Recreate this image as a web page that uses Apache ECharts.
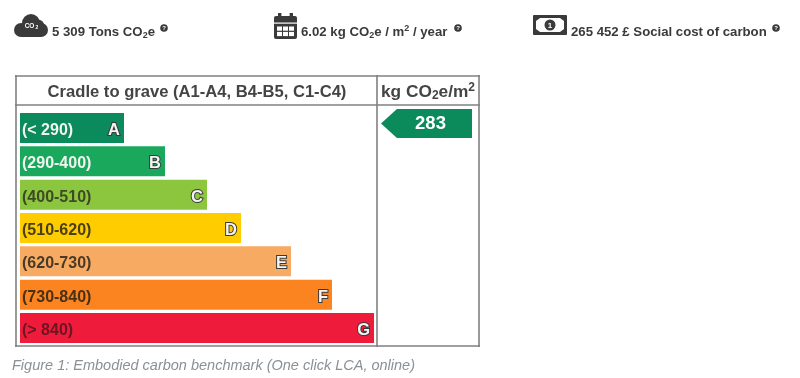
<!DOCTYPE html>
<html>
<head>
<meta charset="utf-8">
<title>Embodied carbon benchmark</title>
<script src="https://cdn.jsdelivr.net/npm/echarts@6/dist/echarts.min.js"></script>
<style>
html, body { margin: 0; padding: 0; background: #fff; }
#chart { width: 800px; height: 378px; }
</style>
</head>
<body>
<div id="chart"></div>
<script>
// data
var ranges = ["(< 290)", "(290-400)", "(400-510)", "(510-620)", "(620-730)", "(730-840)", "(> 840)"];
var grades = ["A", "B", "C", "D", "E", "F", "G"];
var barLengths = [104, 145, 187, 221, 271, 312, 354];
var resultValue = [283];
var resultLabel = ["283"];

var barColors = ["#0b8a5c", "#19a85c", "#8cc63f", "#ffcc00", "#f7ab62", "#fb8420", "#ee1c3a"];
var rangeColors = ["#f0f5f0", "#f0f5f0", "#3d4a25", "#4a3f10", "#4a3a28", "#4a3015", "#6b1525"];

var FONT = '"Liberation Sans", Arial, sans-serif';
var DARK = "#3a3a3a";
var LINE = "#808080";

var myChart = echarts.init(document.getElementById("chart"));

// table frame
function hLine(x1, x2, y) {
    return { type: "line", silent: true, shape: { x1: x1, y1: y, x2: x2, y2: y }, style: { stroke: LINE, lineWidth: 1.6 } };
}
function vLine(x, y1, y2) {
    return { type: "line", silent: true, shape: { x1: x, y1: y1, x2: x, y2: y2 }, style: { stroke: LINE, lineWidth: 1.6 } };
}

// top line text with sub and superscripts
var richText = {
    b: { fontFamily: FONT, fontWeight: "bold", fontSize: 13.2, fill: DARK, lineHeight: 16 },
    sub: { fontFamily: FONT, fontWeight: "bold", fontSize: 9, fill: DARK, verticalAlign: "bottom", lineHeight: 16 },
    sup: { fontFamily: FONT, fontWeight: "bold", fontSize: 9, fill: DARK, verticalAlign: "top", lineHeight: 16 }
};
function topText(x, y, text) {
    return { type: "text", silent: true, x: x, y: y, style: { text: text, rich: richText, fontFamily: FONT, verticalAlign: "middle" } };
}

// small round info mark
function infoMark(x, y) {
    return {
        type: "group", silent: true, x: x, y: y, children: [
            { type: "circle", shape: { cx: 0, cy: 0, r: 3.8 }, style: { fill: DARK } },
            { type: "text", style: { text: "?", x: 0, y: 0.3, fill: "#fff", fontSize: 6, fontWeight: "bold", fontFamily: FONT, align: "center", verticalAlign: "middle" } }
        ]
    };
}

function cloudIcon() {
    return {
        type: "group", silent: true, x: 14, y: 14, children: [
            { type: "circle", shape: { cx: 17, cy: 9, r: 9 }, style: { fill: DARK } },
            { type: "circle", shape: { cx: 7, cy: 16, r: 7 }, style: { fill: DARK } },
            { type: "circle", shape: { cx: 27, cy: 16, r: 7 }, style: { fill: DARK } },
            { type: "circle", shape: { cx: 25, cy: 11, r: 5 }, style: { fill: DARK } },
            { type: "rect", shape: { x: 7, y: 14, width: 20, height: 9 }, style: { fill: DARK } },
            { type: "text", style: { text: "CO", x: 15.5, y: 12, fill: "#fff", fontSize: 6.5, fontWeight: "bold", fontFamily: FONT, align: "center", verticalAlign: "middle" } },
            { type: "text", style: { text: "2", x: 23, y: 14, fill: "#fff", fontSize: 5, fontWeight: "bold", fontFamily: FONT, align: "center", verticalAlign: "middle" } }
        ]
    };
}

function calendarIcon() {
    var cells = [];
    for (var r = 0; r < 2; r++) {
        for (var c = 0; c < 3; c++) {
            cells.push({ type: "rect", shape: { x: 3 + c * 6, y: 13.5 + r * 5.4, width: 5, height: 4.2 }, style: { fill: "#fff" } });
        }
    }
    return {
        type: "group", silent: true, x: 274, y: 13, children: [
            { type: "rect", shape: { x: 0, y: 3, width: 23, height: 23, r: 2 }, style: { fill: DARK } },
            { type: "rect", shape: { x: 4, y: 0, width: 3.4, height: 6 }, style: { fill: DARK } },
            { type: "rect", shape: { x: 15.6, y: 0, width: 3.4, height: 6 }, style: { fill: DARK } },
            { type: "rect", shape: { x: 0, y: 9.5, width: 23, height: 1.2 }, style: { fill: "#fff" } }
        ].concat(cells)
    };
}

function moneyIcon() {
    return {
        type: "group", silent: true, x: 533, y: 15, children: [
            { type: "rect", shape: { x: 0, y: 0, width: 34, height: 20, r: 1 }, style: { fill: DARK } },
            { type: "polygon", shape: { points: [[7, 3], [27, 3], [31, 6], [31, 14], [27, 17], [7, 17], [3, 14], [3, 6]] }, style: { fill: "#fff" } },
            { type: "circle", shape: { cx: 17, cy: 10, r: 5.5 }, style: { fill: DARK } },
            { type: "text", style: { text: "1", x: 17, y: 10.5, fill: "#fff", fontSize: 8, fontWeight: "bold", fontFamily: FONT, align: "center", verticalAlign: "middle" } }
        ]
    };
}

var option = {
    animation: false,
    backgroundColor: "#fff",
    textStyle: { fontFamily: FONT },
    grid: [
        { left: 20, top: 111.3, width: 354, height: 233.4 },
        { left: 381, top: 109, width: 91, height: 29 }
    ],
    xAxis: [
        { gridIndex: 0, type: "value", min: 0, max: 354, show: false },
        { gridIndex: 1, type: "value", min: 0, max: 283, show: false }
    ],
    yAxis: [
        { gridIndex: 0, type: "category", inverse: true, data: ranges, show: false },
        { gridIndex: 1, type: "category", data: resultLabel, show: false }
    ],
    series: [
        {
            type: "bar",
            xAxisIndex: 0,
            yAxisIndex: 0,
            barWidth: 30,
            barGap: "-100%",
            silent: true,
            data: barLengths.map(function (v, i) {
                return {
                    value: v,
                    itemStyle: { color: barColors[i] },
                    label: { color: rangeColors[i] }
                };
            }),
            label: {
                show: true,
                position: "insideLeft",
                distance: 2,
                offset: [0, 2.5],
                fontFamily: FONT,
                fontSize: 16,
                fontWeight: "bold",
                formatter: function (p) { return p.name; }
            }
        },
        {
            type: "bar",
            xAxisIndex: 0,
            yAxisIndex: 0,
            barWidth: 30,
            barGap: "-100%",
            silent: true,
            itemStyle: { color: "transparent" },
            data: barLengths,
            label: {
                show: true,
                position: "insideRight",
                distance: 4,
                offset: [0, 2.5],
                fontFamily: FONT,
                fontSize: 16.5,
                fontWeight: "bold",
                color: "#f4f4f4",
                textBorderColor: "#3a3a3a",
                textBorderWidth: 2,
                formatter: function (p) { return grades[p.dataIndex]; }
            }
        },
        {
            type: "pictorialBar",
            xAxisIndex: 1,
            yAxisIndex: 1,
            silent: true,
            symbol: "path://M0 50 L17.5 0 L100 0 L100 100 L17.5 100 Z",
            symbolSize: ["100%", 29],
            symbolPosition: "start",
            itemStyle: { color: "#0b8a5c" },
            data: resultValue,
            label: {
                show: true,
                position: "inside",
                offset: [4, 0],
                fontFamily: FONT,
                fontSize: 18.5,
                fontWeight: "bold",
                color: "#fff"
            }
        }
    ],
    graphic: [
        hLine(15, 480, 76),
        hLine(15, 480, 105),
        hLine(15, 480, 346),
        vLine(16, 75, 347),
        vLine(377, 75, 347),
        vLine(479, 75, 347),
        {
            type: "text", silent: true,
            style: {
                text: "Cradle to grave (A1-A4, B4-B5, C1-C4)",
                x: 197, y: 92.5,
                fill: "#444", fontFamily: FONT, fontWeight: "bold", fontSize: 16.6,
                align: "center", verticalAlign: "middle"
            }
        },
        {
            type: "text", silent: true, x: 381, y: 92,
            style: {
                text: "{a|kg CO}{s|2}{a|e/m}{p|2}",
                verticalAlign: "middle",
                rich: {
                    a: { fontFamily: FONT, fontWeight: "bold", fontSize: 17.3, fill: "#444", lineHeight: 20 },
                    s: { fontFamily: FONT, fontWeight: "bold", fontSize: 12, fill: "#444", verticalAlign: "bottom", lineHeight: 20 },
                    p: { fontFamily: FONT, fontWeight: "bold", fontSize: 12, fill: "#444", verticalAlign: "top", lineHeight: 20 }
                }
            }
        },
        cloudIcon(),
        topText(52, 32, "{b|5 309 Tons CO}{sub|2}{b|e}"),
        infoMark(164, 28),
        calendarIcon(),
        topText(301, 32, "{b|6.02 kg CO}{sub|2}{b|e / m}{sup|2}{b| / year}"),
        infoMark(458, 28),
        moneyIcon(),
        topText(571, 32, "{b|265 452 £ Social cost of carbon}"),
        infoMark(776, 28),
        {
            type: "text", silent: true,
            style: {
                text: "Figure 1: Embodied carbon benchmark (One click LCA, online)",
                x: 12, y: 366,
                fill: "#8a9096", fontFamily: FONT, fontStyle: "italic", fontSize: 14.5,
                verticalAlign: "middle"
            }
        }
    ]
};

myChart.setOption(option);
</script>
</body>
</html>
